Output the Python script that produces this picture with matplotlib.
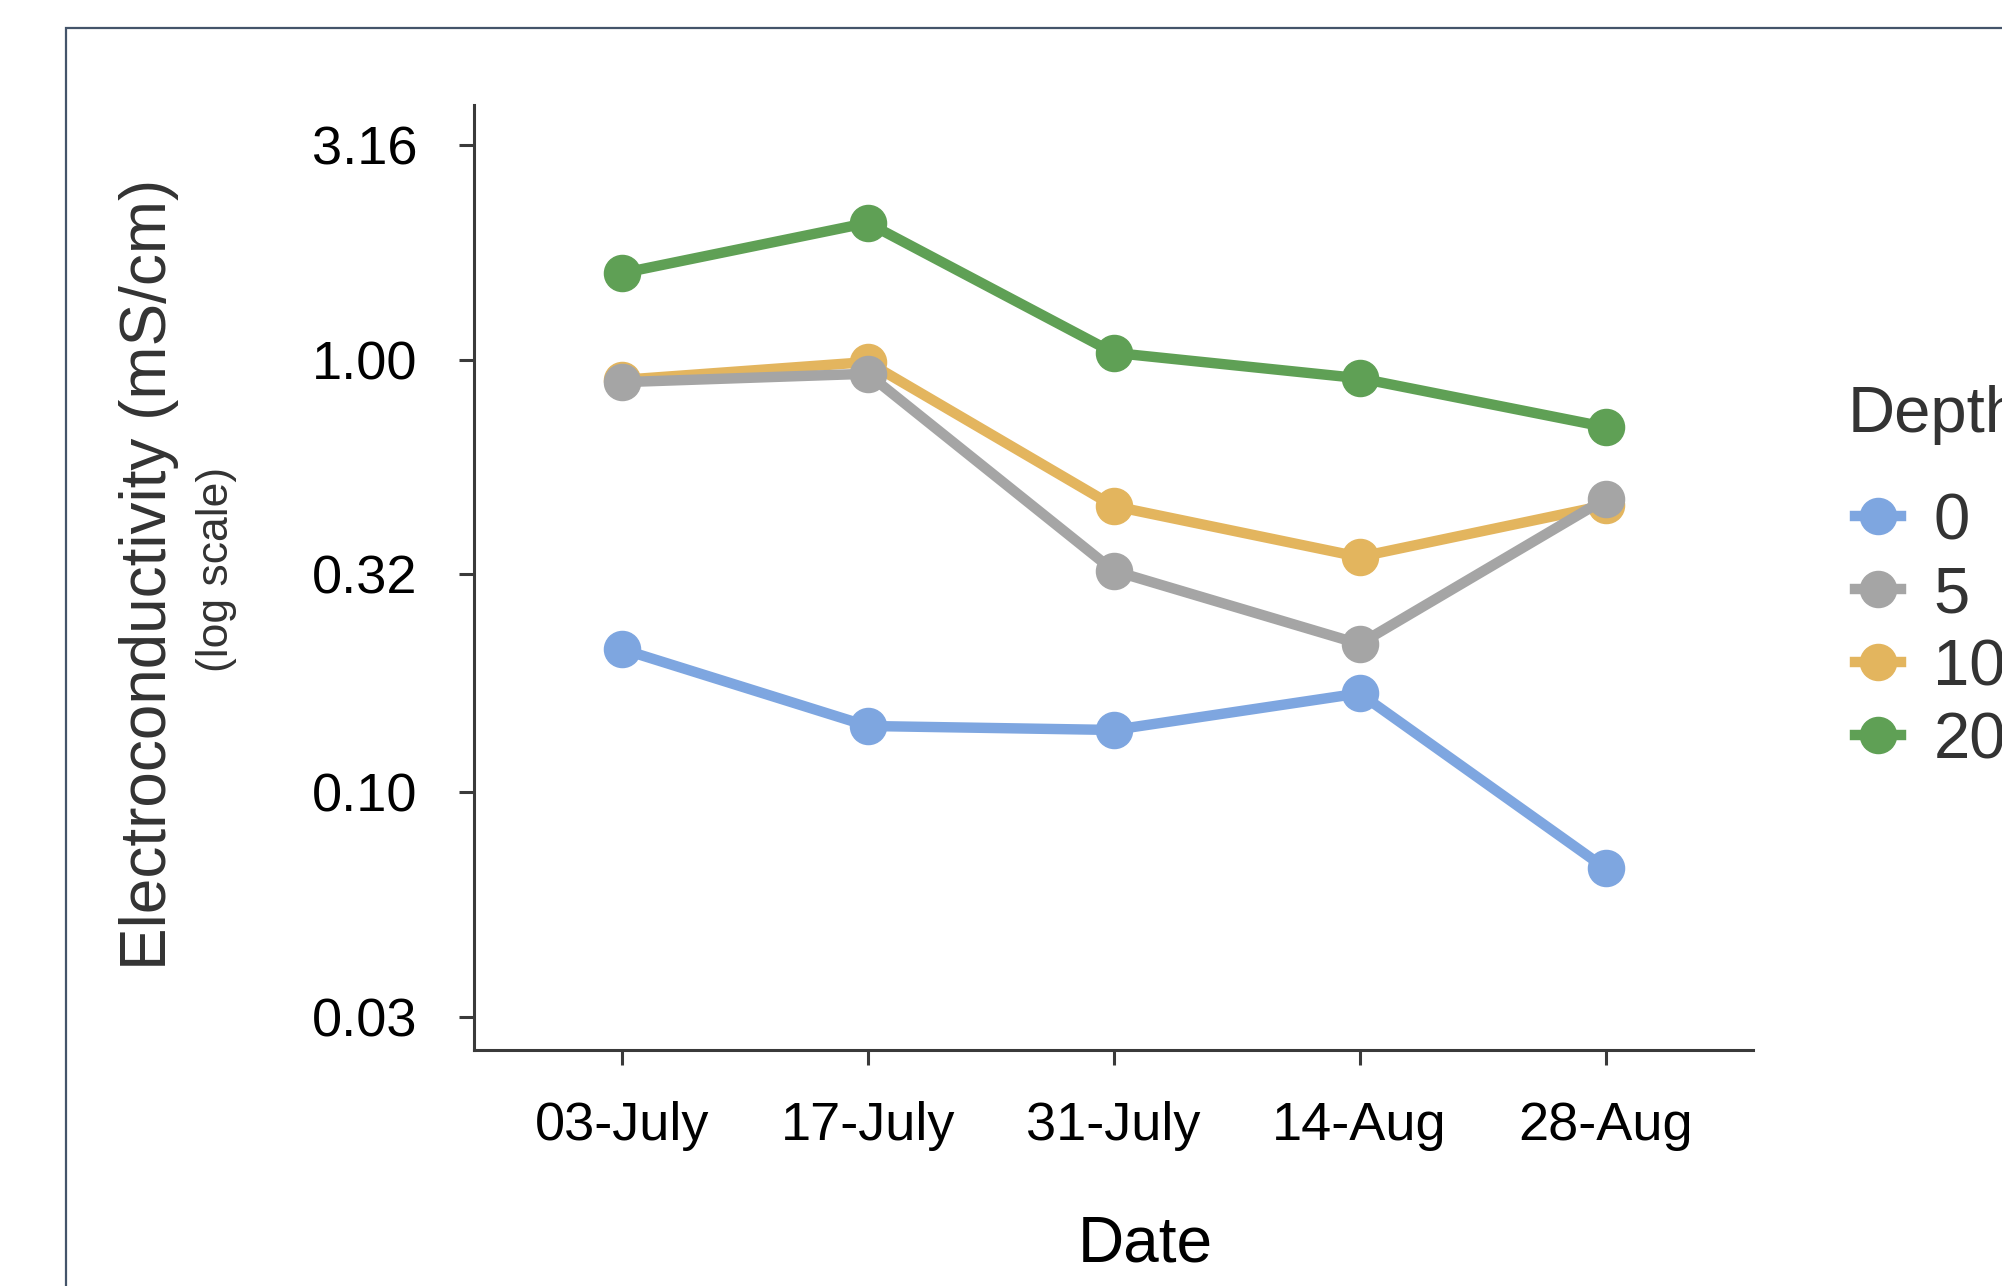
import numpy as np
import matplotlib.pyplot as plt
from matplotlib.patches import Rectangle
from matplotlib.lines import Line2D

dates = ['03-July', '17-July', '31-July', '14-Aug', '28-Aug']
depths = ['0', '5', '10', '20']
ec_0 = [0.214, 0.142, 0.139, 0.169, 0.0664]
ec_5 = [0.889, 0.93, 0.325, 0.22, 0.477]
ec_10 = [0.90, 0.99, 0.459, 0.35, 0.461]
ec_20 = [1.59, 2.08, 1.04, 0.908, 0.70]
yticks = [0.03, 0.10, 0.32, 1.00, 3.16]

colors = {'0': '#7ea6e0', '5': '#a5a5a5', '10': '#e3b55e', '20': '#5fa055'}
series = {'0': ec_0, '5': ec_5, '10': ec_10, '20': ec_20}

narrow = ['Liberation Sans Narrow', 'Liberation Sans', 'DejaVu Sans']
plt.rcParams['font.family'] = narrow

fig = plt.figure(figsize=(20.02, 12.86), dpi=100)
ax = fig.add_axes([0.2368, 0.1835, 0.6389, 0.7348])

x = np.arange(len(dates))
# draw order so grey sits over orange like the original
for d in ['20', '10', '5', '0']:
    ax.plot(x, series[d], color=colors[d], lw=7.5, marker='o', ms=26,
            solid_capstyle='round')

ax.set_yscale('log')
ax.set_ylim(0.0252, 3.9)
ax.set_xlim(-0.6, 4.6)
ax.set_yticks(yticks)
ax.set_yticklabels(['%.2f' % v for v in yticks])
ax.minorticks_off()
ax.set_xticks(x)
ax.set_xticklabels(dates)

for s in ['top', 'right']:
    ax.spines[s].set_visible(False)
for s in ['left', 'bottom']:
    ax.spines[s].set_color('#3a3a3a')
    ax.spines[s].set_linewidth(2.2)
ax.tick_params(axis='both', colors='#3a3a3a', length=11, width=2.2, labelcolor='black')
ax.tick_params(axis='y', pad=30, labelsize=39)
ax.tick_params(axis='x', pad=26, labelsize=39)

fig.text(0.5719, 1 - 1245 / 1286, 'Date', fontsize=46, ha='center', va='center')
fig.text(0.0744, 0.553, 'Electroconductivity (mS/cm)', fontsize=46, rotation=90,
         ha='center', va='center', color='#333333')
fig.text(0.108, 0.557, '(log scale)', fontsize=32, rotation=90,
         ha='center', va='center', color='#333333')

# legend title as its own text, entries below
fig.text(1848 / 2002, 1 - 415 / 1286, 'Depth', fontsize=47, ha='left', va='center',
         color='#333333')
handles = [Line2D([], [], color=colors[d], lw=7.5, marker='o', ms=26) for d in depths]
leg = fig.legend(handles, depths, loc='upper left',
                 bbox_to_anchor=(1855 / 2002, 1 - 492 / 1286), frameon=False,
                 fontsize=47, handlelength=0.7,
                 handletextpad=0.5, labelspacing=0.2, borderpad=0,
                 borderaxespad=0)
for t in leg.get_texts():
    t.set_color('#333333')

fig.patches.append(Rectangle((66 / 2002, -0.1), 1.2, 1.1 - 28 / 1286, transform=fig.transFigure,
                             fill=False, edgecolor='#44546a', lw=1.6))

fig.savefig('out.png', dpi=100)
